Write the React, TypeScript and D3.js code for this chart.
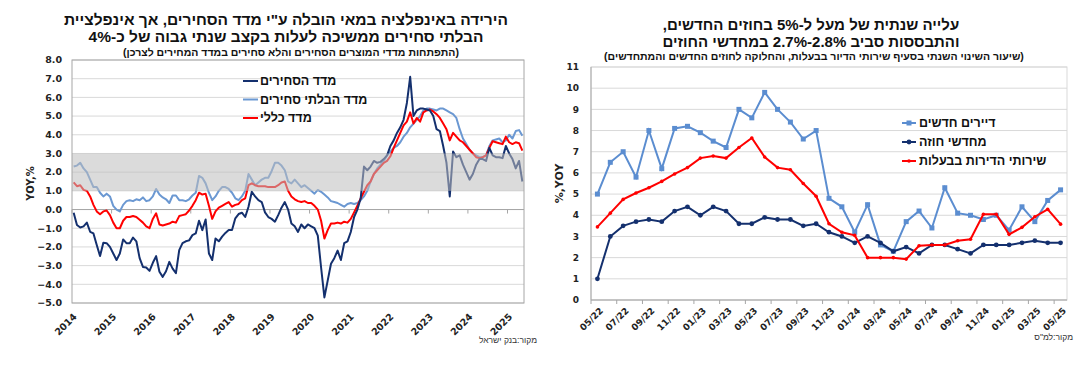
import React from 'react';
import * as d3 from 'd3';

// ---------- Left chart data (monthly, Jan 2014 – May 2025) ----------
const yearLabels = ['2014', '2015', '2016', '2017', '2018', '2019', '2020', '2021', '2022', '2023', '2024', '2025'];
const leftYTicks = [8, 7, 6, 5, 4, 3, 2, 1, 0, -1, -2, -3, -4, -5];

const tradables = [
  -0.17, -0.83, -0.96, -0.9, -0.7, -1.19, -1.28, -1.9, -2.49, -1.78, -1.8, -2.0,
  -2.35, -2.7, -2.35, -1.6, -1.8, -1.8, -1.5, -1.7, -2.6, -3.07, -3.1, -3.28,
  -2.85, -2.49, -3.33, -3.6, -3.3, -2.8, -3.16, -3.4, -2.17, -1.8, -1.7, -1.65,
  -1.37, -1.28, -0.6, -1.1, -0.53, -2.35, -2.7, -1.55, -1.7, -1.45, -1.25, -1.1,
  -1.1, -0.47, -0.24, -0.17, -0.4, 0.15, 0.95, 0.7, 0.5, 0.4, -0.15, -0.4,
  -0.5, -0.65, -0.3, 0.1, 0.4, 0.0, -0.75, -0.9, -1.2, -0.8, -1.0, -0.8,
  -0.9, -1.0, -1.4, -3.1, -4.7, -3.8, -2.9, -2.6, -2.2, -2.7, -1.8, -1.7,
  -1.2, -0.4, 0.0, 0.6, 2.3, 2.1, 2.3, 2.6, 2.5, 2.55, 2.7, 2.9,
  3.4, 3.7, 4.1, 4.4, 4.8, 5.7, 7.1, 5.0, 5.3, 5.4, 5.4, 5.35,
  5.3, 5.0, 4.3, 4.2, 3.4, 2.5, 0.7, 3.1, 2.8, 2.9, 2.4, 2.0,
  1.6, 1.9, 2.4, 2.7, 2.7, 2.6, 3.3, 2.9, 2.8, 2.8, 2.75, 3.4,
  3.0, 2.7, 2.2, 2.6, 1.5,
];

const nonTradables = [
  2.3, 2.35, 2.5, 2.2, 2.0, 1.6, 1.2, 1.2, 0.9, 0.7, 0.85, 0.7,
  0.2, 0.0, -0.1, 0.25, 0.45, 0.5, 0.45, 0.55, 0.5, 0.65, 0.45, 0.5,
  0.7, 1.1, 0.8, 0.65, 0.55, 0.35, 0.75, 0.75, 0.5, 0.5, 0.45, 0.55,
  0.75, 0.9, 1.8, 1.7, 1.4, 0.9, 0.5, 0.7, 1.0, 1.2, 1.2, 1.1,
  0.9, 0.6, 0.5, 0.7, 1.0, 1.9, 1.6, 1.3, 1.45, 1.6, 1.7, 1.7,
  2.05, 2.5, 2.5, 2.35, 2.1, 1.5, 1.4, 1.6, 1.4, 1.2, 1.3, 1.15,
  1.0, 0.85, 1.05, 0.95, 0.8, 0.65, 0.45, 0.4, 0.35, 0.25, 0.15, 0.3,
  0.35, 0.3, 0.35, 0.5, 0.7, 1.0, 1.5, 1.9, 2.2, 2.4, 2.6, 2.9,
  3.1, 3.3, 3.4, 3.6, 3.9, 4.1, 4.4, 4.6, 4.8, 5.0, 5.3, 5.4,
  5.4, 5.35, 5.3, 5.4, 5.4, 5.3, 5.2, 5.1, 4.9, 4.3, 3.8, 3.5,
  3.2, 3.0, 2.9, 2.8, 2.8, 2.9, 3.4, 3.7, 3.75, 3.8, 3.6, 3.7,
  4.0, 3.8, 4.2, 4.25, 3.95,
];

const cpiTotal = [
  1.45, 1.25, 1.3, 1.05, 1.0, 0.7, 0.25, -0.1, -0.25, -0.1, -0.05, -0.3,
  -0.7, -1.0, -1.0, -0.6, -0.4, -0.4, -0.35, -0.4, -0.55, -0.7, -0.9, -1.0,
  -0.5, -0.2, -0.8, -0.85, -0.8, -0.75, -0.65, -0.7, -0.35, -0.3, -0.25, -0.05,
  0.2, 0.5, 0.9, 0.8, 0.85, 0.2, -0.5, -0.1, 0.1, 0.2, 0.3, 0.4,
  0.15, 0.25, 0.3, 0.5, 0.6, 1.3, 1.4, 1.3, 1.25, 1.25, 1.25, 1.2,
  1.2, 1.2, 1.3, 1.45, 1.5, 1.0, 0.7, 0.55, 0.45, 0.4, 0.45, 0.35,
  0.35, 0.2, 0.0, -0.6, -1.55, -1.1, -0.75, -0.75, -0.7, -0.75, -0.65, -0.7,
  -0.5, -0.15, 0.2, 0.6, 0.95, 1.3, 1.5, 1.9, 2.1, 2.3, 2.5, 2.6,
  2.85, 3.3, 3.7, 4.1, 4.5, 4.7, 5.2, 4.6, 4.9, 4.7, 5.2, 5.3,
  5.35, 5.25, 5.1, 4.9, 4.6, 4.3, 3.7, 4.1, 3.9, 3.7, 3.6, 3.4,
  3.2, 3.0, 2.8, 2.75, 2.8, 2.9, 3.3, 3.65, 3.6, 3.55, 3.5, 3.9,
  3.6, 3.5, 3.6, 3.55, 3.15,
];

const leftLegend = ['מדד הסחירים', 'מדד הבלתי סחירים', 'מדד כללי'];

// ---------- Right chart data (monthly, 05/22 – 05/25) ----------
const rMonths = [
  '05/22', '06/22', '07/22', '08/22', '09/22', '10/22', '11/22', '12/22',
  '01/23', '02/23', '03/23', '04/23', '05/23', '06/23', '07/23', '08/23', '09/23', '10/23', '11/23', '12/23',
  '01/24', '02/24', '03/24', '04/24', '05/24', '06/24', '07/24', '08/24', '09/24', '10/24', '11/24', '12/24',
  '01/25', '02/25', '03/25', '04/25', '05/25',
];
const rYTicks = [0, 1, 2, 3, 4, 5, 6, 7, 8, 9, 10, 11];
const newTenants = [5.0, 6.5, 7.0, 5.8, 8.0, 6.2, 8.1, 8.2, 7.9, 7.5, 7.2, 9.0, 8.6, 9.8, 9.0, 8.4, 7.6, 8.0, 4.8, 4.4, 3.2, 4.5, 2.6, 2.3, 3.7, 4.2, 3.4, 5.3, 4.1, 4.0, 3.8, 4.0, 3.3, 4.4, 3.7, 4.7, 5.2];
const renewals = [1.0, 3.0, 3.5, 3.7, 3.8, 3.7, 4.2, 4.4, 4.0, 4.4, 4.2, 3.6, 3.6, 3.9, 3.8, 3.8, 3.5, 3.6, 3.2, 3.0, 2.7, 3.0, 2.7, 2.3, 2.5, 2.2, 2.6, 2.6, 2.4, 2.2, 2.6, 2.6, 2.6, 2.7, 2.8, 2.7, 2.7];
const ownerHousing = [3.45, 4.1, 4.75, 5.05, 5.3, 5.6, 5.95, 6.25, 6.7, 6.8, 6.7, 7.2, 7.65, 6.75, 6.25, 6.15, 5.5, 4.9, 3.6, 3.2, 3.05, 2.0, 2.0, 2.0, 1.93, 2.56, 2.6, 2.6, 2.8, 2.87, 4.05, 4.05, 3.1, 3.43, 3.93, 4.28, 3.58];
const rightLegend = ['דיירים חדשים', 'מחדשי חוזה', 'שירותי הדירות בבעלות'];

const NAVY = '#14306e';
const LBLUE = '#6b98d2';
const RED = '#ff0000';
const RBLUE = '#5b8dd0';
const GRID = '#d9d9d9';
const AXIS = '#a6a6a6';
const HEB = "'Liberation Sans', Arial, sans-serif";
const NUM = "'DejaVu Sans', sans-serif";

export default function App() {
  // Left chart
  const L = { x0: 72, x1: 524, y0: 60, y1: 303 };
  const xL = d3.scaleLinear().domain([0, tradables.length]).range([L.x0, L.x1]);
  const yL = d3.scaleLinear().domain([-5, 8]).range([L.y1, L.y0]);
  const lineL = d3.line<number>().x((_, i) => xL(i + 0.5)).y((d) => yL(d));

  // Right chart
  const R = { x0: 591, x1: 1067, y0: 67, y1: 300 };
  const xR = d3.scaleBand<string>().domain(rMonths).range([R.x0, R.x1]).padding(0);
  const bw = xR.bandwidth();
  const cx = (m: string) => (xR(m) as number) + bw / 2;
  const yR = d3.scaleLinear().domain([0, 11]).range([R.y1, R.y0]);
  const lineR = d3.line<number>().x((_, i) => cx(rMonths[i])).y((d) => yR(d));

  const leftSeries = [
    { data: nonTradables, color: LBLUE },
    { data: cpiTotal, color: RED },
    { data: tradables, color: NAVY },
  ];
  const leftLegendColors = [NAVY, LBLUE, RED];

  return (
    <svg width={1088} height={376} style={{ position: 'absolute', left: 0, top: 0, background: '#fff' }}>
      <rect x={0} y={0} width={1088} height={376} fill="#fff" />
      {/* ---------- LEFT CHART ---------- */}
      <g fontFamily={HEB} fontWeight="bold" fill="#111">
        <text x={286} y={25} textAnchor="middle" direction="rtl" fontSize={15.5}>הירידה באינפלציה במאי הובלה ע"י מדד הסחירים, אך אינפלציית</text>
        <text x={286} y={42} textAnchor="middle" direction="rtl" fontSize={15.5}>הבלתי סחירים ממשיכה לעלות בקצב שנתי גבוה של כ-4%</text>
        <text x={291} y={56} textAnchor="middle" direction="rtl" fontSize={10.5}>(התפתחות מדדי המוצרים הסחירים והלא סחירים במדד המחירים לצרכן)</text>
      </g>
      {leftYTicks.map((t) => (
        <line key={'lg' + t} x1={L.x0} x2={L.x1} y1={yL(t)} y2={yL(t)} stroke={GRID} strokeWidth={1} />
      ))}
      {leftYTicks.map((t) => (
        <text key={'ly' + t} x={62} y={yL(t)} dy="0.35em" textAnchor="end" fontFamily={NUM} fontWeight="bold" fontSize={9.5} fill="#222">
          {d3.format('.1f')(t)}
        </text>
      ))}
      <line x1={L.x0} x2={L.x1} y1={yL(0)} y2={yL(0)} stroke={AXIS} strokeWidth={1} />
      {yearLabels.map((y, k) => (
        <line key={'lt' + y} x1={xL(12 * k)} x2={xL(12 * k)} y1={yL(0)} y2={yL(0) + 4} stroke={AXIS} />
      ))}
      {leftSeries.map((s, k) => (
        <path key={'ls' + k} d={lineL(s.data) || ''} fill="none" stroke={s.color} strokeWidth={2} strokeLinejoin="round" />
      ))}
      <rect x={L.x0} y={yL(3)} width={L.x1 - L.x0} height={yL(1) - yL(3)} fill="#bdbdbd" fillOpacity={0.55} />
      <rect x={L.x0} y={L.y0} width={L.x1 - L.x0} height={L.y1 - L.y0} fill="none" stroke={AXIS} strokeWidth={1} />
      {yearLabels.map((y, k) => (
        <text key={'lx' + y} transform={`translate(${xL(12 * k) + 3},${L.y1 + 12}) rotate(-45)`} textAnchor="end" dy="0.35em"
          fontFamily={NUM} fontWeight="bold" fontSize={9.5} fill="#222">{y}</text>
      ))}
      <text transform={`translate(34,${(L.y0 + L.y1) / 2 + 2}) rotate(-90)`} textAnchor="middle" fontFamily={NUM} fontWeight="bold" fontSize={10} fill="#222">YOY,%</text>
      {leftLegend.map((t, k) => (
        <g key={'ll' + k}>
          <line x1={243} x2={258} y1={81 + k * 18.5} y2={81 + k * 18.5} stroke={leftLegendColors[k]} strokeWidth={2} />
          <text x={260} y={81 + k * 18.5} dy="0.35em" fontFamily={HEB} fontWeight="bold" fontSize={12.5} fill="#111">{t}</text>
        </g>
      ))}
      <text x={537} y={343} textAnchor="end" fontFamily={HEB} fontSize={8.5} fill="#333">מקור:בנק ישראל</text>

      {/* ---------- RIGHT CHART ---------- */}
      <g fontFamily={HEB} fontWeight="bold" fill="#111">
        <text x={811} y={30} textAnchor="middle" direction="rtl" fontSize={15}>עלייה שנתית של מעל ל-5% בחוזים החדשים,</text>
        <text x={811} y={47} textAnchor="middle" direction="rtl" fontSize={15}>והתבססות סביב 2.8%-2.7% במחדשי החוזים</text>
        <text x={814} y={60} textAnchor="middle" direction="rtl" fontSize={10.5}>(שיעור השינוי השנתי בסעיף שירותי הדיור בבעלות, והחלוקה לחוזים החדשים והמתחדשים)</text>
      </g>
      {rYTicks.map((t) => (
        <line key={'rg' + t} x1={R.x0} x2={R.x1} y1={yR(t)} y2={yR(t)} stroke={GRID} strokeWidth={1} />
      ))}
      <rect x={R.x0} y={R.y0} width={R.x1 - R.x0} height={R.y1 - R.y0} fill="none" stroke={GRID} strokeWidth={1} />
      <line x1={R.x0} x2={R.x0} y1={R.y0} y2={R.y1} stroke={AXIS} />
      <line x1={R.x0} x2={R.x1} y1={R.y1} y2={R.y1} stroke={AXIS} />
      {rYTicks.map((t) => (
        <text key={'ry' + t} x={579} y={yR(t)} dy="0.35em" textAnchor="end" fontFamily={NUM} fontWeight="bold" fontSize={9} fill="#222">{t}</text>
      ))}
      {rMonths.map((m, k) => (k % 2 === 0 ? (
        <line key={'rt' + m} x1={xR(m) as number} x2={xR(m) as number} y1={R.y1} y2={R.y1 + 4} stroke={AXIS} />
      ) : null))}
      {rMonths.map((m, k) => (k % 2 === 0 ? (
        <text key={'rx' + m} transform={`translate(${cx(m) + 4},${R.y1 + 9}) rotate(-45)`} textAnchor="end" dy="0.35em"
          fontFamily={NUM} fontWeight="bold" fontSize={9} fill="#222">{m}</text>
      ) : null))}
      <text transform={`translate(563,${(R.y0 + R.y1) / 2}) rotate(-90)`} textAnchor="middle" fontFamily={NUM} fontWeight="bold" fontSize={11} fill="#222">%,YOY</text>

      <path d={lineR(newTenants) || ''} fill="none" stroke={RBLUE} strokeWidth={2} />
      {newTenants.map((v, i) => (
        <rect key={'nt' + i} x={cx(rMonths[i]) - 2.5} y={yR(v) - 2.5} width={5} height={5} fill={RBLUE} />
      ))}
      <path d={lineR(renewals) || ''} fill="none" stroke={NAVY} strokeWidth={2} />
      {renewals.map((v, i) => (
        <circle key={'rn' + i} cx={cx(rMonths[i])} cy={yR(v)} r={2.4} fill={NAVY} />
      ))}
      <path d={lineR(ownerHousing) || ''} fill="none" stroke={RED} strokeWidth={2} />
      {ownerHousing.map((v, i) => (
        <circle key={'oh' + i} cx={cx(rMonths[i])} cy={yR(v)} r={1.8} fill={RED} />
      ))}

      {rightLegend.map((t, k) => {
        const y = 123 + k * 19;
        const col = [RBLUE, NAVY, RED][k];
        return (
          <g key={'rl' + k}>
            <line x1={902} x2={916} y1={y} y2={y} stroke={col} strokeWidth={2} />
            {k === 0 ? <rect x={906.5} y={y - 2.5} width={5} height={5} fill={col} /> : <circle cx={909} cy={y} r={k === 1 ? 2.4 : 1.8} fill={col} />}
            <text x={919} y={y} dy="0.35em" fontFamily={HEB} fontWeight="bold" fontSize={12.5} fill="#111">{t}</text>
          </g>
        );
      })}
      <text x={1073} y={340} textAnchor="end" fontFamily={HEB} fontSize={8.5} fill="#333">מקור:למ"ס</text>
    </svg>
  );
}
